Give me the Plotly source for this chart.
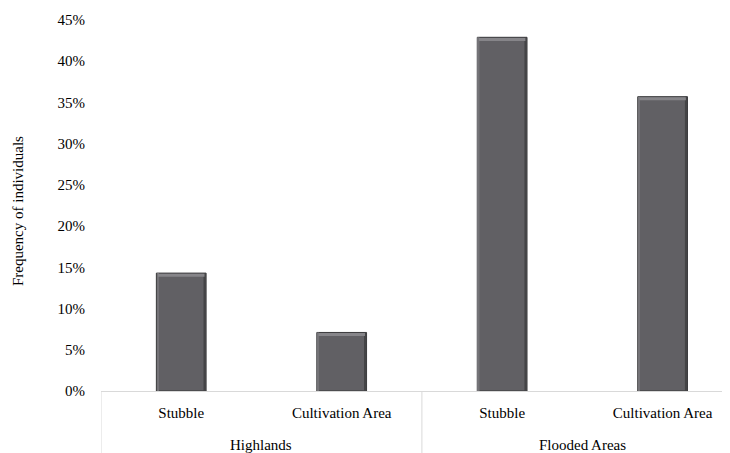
import plotly.graph_objects as go

groups = ["Highlands", "Highlands", "Flooded Areas", "Flooded Areas"]
areas = ["Stubble", "Cultivation Area", "Stubble", "Cultivation Area"]
freq = [0.143, 0.071, 0.429, 0.357]
y_ticks = [0, 0.05, 0.10, 0.15, 0.20, 0.25, 0.30, 0.35, 0.40, 0.45]

FONT = "Liberation Serif"
FS = 15
BW = 0.31
pos = list(range(len(areas)))

fig = go.Figure()
# main bars
fig.add_trace(go.Bar(
    x=pos, y=freq, width=BW,
    marker=dict(color="#616064", line=dict(color="#3a3a3c", width=1)),
    hoverinfo="skip",
))
# bevel: dark right edge
fig.add_trace(go.Bar(
    x=pos, y=freq, width=0.014, offset=BW / 2 - 0.016,
    marker=dict(color="#444446", line=dict(width=0)),
    hoverinfo="skip",
))
# bevel: lighter left edge
fig.add_trace(go.Bar(
    x=pos, y=freq, width=0.01, offset=-BW / 2 + 0.004,
    marker=dict(color="#747377", line=dict(width=0)),
    hoverinfo="skip",
))
# bevel: highlight along the top
hl = 0.0036
fig.add_trace(go.Bar(
    x=pos, y=[hl] * len(freq), base=[v - hl - 0.0008 for v in freq], width=BW - 0.02,
    marker=dict(color="#868589", line=dict(width=0)),
    hoverinfo="skip",
))

# group labels and dividers
group_names = []
for g in groups:
    if g not in group_names:
        group_names.append(g)
for g in group_names:
    idx = [i for i, gg in enumerate(groups) if gg == g]
    fig.add_annotation(
        x=sum(idx) / len(idx), xref="x", y=-0.145, yref="paper",
        text=g, showarrow=False, yanchor="middle",
        font=dict(family=FONT, size=FS, color="#000000"),
    )
bounds = [-0.5] + [i + 0.5 for i in range(len(groups) - 1) if groups[i] != groups[i + 1]] + [len(groups) - 0.5]
for b in bounds:
    fig.add_shape(type="line", xref="x", yref="paper", x0=b, x1=b, y0=0, y1=-0.2,
                  line=dict(color="#d9d9d9", width=1))

fig.add_annotation(
    x=-0.132, xref="paper", y=0.485, yref="paper", text="Frequency of individuals",
    textangle=-90, showarrow=False, xanchor="center", yanchor="middle",
    font=dict(family=FONT, size=FS, color="#000000"),
)

fig.update_layout(
    width=722, height=445,
    margin=dict(l=93, r=0, t=12, b=62, autoexpand=False),
    paper_bgcolor="white", plot_bgcolor="white",
    showlegend=False, barmode="overlay",
    font=dict(family=FONT, size=FS, color="#000000"),
)
fig.update_xaxes(
    range=[-0.5, 3.42],
    tickvals=pos, ticktext=areas,
    showline=True, linecolor="#d9d9d9", linewidth=1,
    ticks="", showgrid=False, zeroline=False, automargin=False,
    ticklabelstandoff=8,
    tickfont=dict(family=FONT, size=FS, color="#000000"),
)
fig.update_yaxes(
    range=[0, 0.45],
    tickvals=y_ticks, tickformat=".0%",
    showline=False, showgrid=False, zeroline=False,
    ticks="", ticklabelstandoff=15, automargin=False,
    tickfont=dict(family=FONT, size=FS, color="#000000"),
)

fig.write_html("out.html")
